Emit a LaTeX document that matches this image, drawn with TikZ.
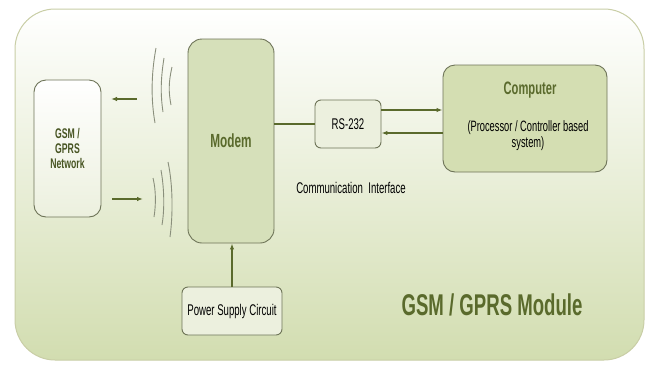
\documentclass[tikz,border=0pt]{standalone}
\usepackage{fontspec}
\setmainfont{Liberation Sans}[FakeStretch=0.62]
\usetikzlibrary{arrows.meta}
\definecolor{olivedark}{HTML}{5A6A2C}
\definecolor{boxline}{HTML}{6E7458}
\definecolor{modemfill}{HTML}{D6E0BA}
\definecolor{compfill}{HTML}{D4DEB2}
\definecolor{palefill}{HTML}{ECF0DE}
\definecolor{outerline}{HTML}{C9CEA6}
\definecolor{outerbottom}{HTML}{D2DDB0}
\definecolor{wavegray}{HTML}{8A8F7C}

\begin{document}
\begin{tikzpicture}[x=1pt,y=-1pt]
\par
\tikzstyle{blk}=[draw=boxline,line width=0.9pt,rounded corners=7pt,align=center,inner sep=0pt]
\tikzstyle{arr}=[-{Latex[length=6pt,width=4.5pt]},draw=olivedark,line width=1.6pt]
\tikzstyle{wave}=[draw=wavegray,line width=0.9pt]
\useasboundingbox (0,0) rectangle (649,365);
\fill[white] (0,0) rectangle (649,365);
\shade[top color=white,bottom color=outerbottom,draw=outerline,line width=1pt,rounded corners=40pt]
  (15,9) rectangle (644,360);
\par
\node[blk,top color=white,bottom color=palefill,minimum width=67pt,minimum height=137pt,rounded corners=12pt,
      font=\bfseries\fontsize{14}{15}\selectfont,text=olivedark!80!black]
  (net) at (67.5,148.5) {GSM /\\GPRS\\Network};
\node[blk,fill=modemfill,minimum width=86pt,minimum height=204pt,rounded corners=14pt,
      font=\bfseries\fontsize{19}{20}\selectfont,text=olivedark]
  (modem) at (231,141) {Modem};
\node[blk,fill=palefill,minimum width=66pt,minimum height=48pt,rounded corners=6pt,
      font=\fontsize{15.5}{17}\selectfont]
  (rs) at (348,124) {RS-232};
\node[blk,fill=compfill,minimum width=164pt,minimum height=107pt,rounded corners=12pt]
  (comp) at (525,118.5) {};
\node[font=\bfseries\fontsize{18}{19}\selectfont,text=olivedark] (comptitle) at (530,90) {Computer};
\node[font=\fontsize{15}{16}\selectfont,align=center] (compsub) at (528,136)
  {(Processor / Controller based\\system)};
\node[blk,fill=palefill,minimum width=100pt,minimum height=48pt,rounded corners=6pt,
      font=\fontsize{15.5}{17}\selectfont]
  (psu) at (232,311) {Power Supply Circuit};
\node[font=\fontsize{15.5}{17}\selectfont] (iface) at (351,188) {Communication\ \ Interface};
\node[font=\bfseries\fontsize{30}{32}\selectfont,text=olivedark] (module) at (492,305) {GSM / GPRS Module};
\par
\coordinate (upfrom) at (137,99);
\coordinate (upto) at (111,99);
\coordinate (dnfrom) at (112,199);
\coordinate (dnto) at (143,199);
\draw[arr] (upfrom) -- (upto);
\draw[arr] (dnfrom) -- (dnto);
\draw[draw=olivedark,line width=1.6pt] (modem.east |- rs.west) -- (rs.west);
\draw[arr] (rs.east |- 0,110) -- (comp.west |- 0,110);
\draw[arr] (comp.west |- 0,133) -- (rs.east |- 0,133);
\draw[arr,line width=1.2pt] (psu.north) -- (psu.north |- modem.south);
\par
\draw[wave] (156,48) .. controls (151,75) and (151,100) .. (155,123);
\draw[wave] (164,58) .. controls (160.5,80) and (160.5,95) .. (163,112);
\draw[wave] (172,67) .. controls (168.5,82) and (168.5,92) .. (171,105);
\draw[wave] (153,178) .. controls (156,190) and (156,205) .. (154,217);
\draw[wave] (161,170) .. controls (164.5,190) and (164.5,210) .. (162,225);
\draw[wave] (168,162) .. controls (173,185) and (173,215) .. (170,237);
\par
\end{tikzpicture}
\end{document}
